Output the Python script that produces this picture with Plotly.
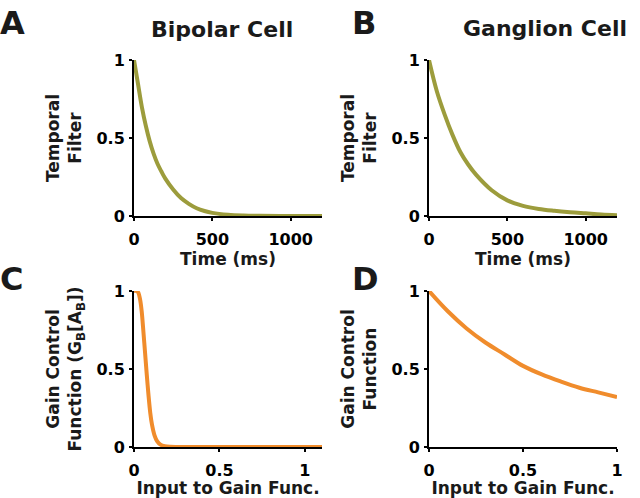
import plotly.graph_objects as go

# Panel A: bipolar temporal filter (time in ms)
a_time = [0, 25, 50, 75, 100, 125, 150, 175, 200, 250, 300, 350, 400, 450, 500, 600, 700, 800, 1000, 1200]
a_filter = [1.0, 0.85, 0.70, 0.58, 0.48, 0.40, 0.335, 0.285, 0.24, 0.17, 0.115, 0.078, 0.05, 0.032, 0.02, 0.008, 0.003, 0.001, 0.0, 0.0]

# Panel B: ganglion temporal filter
b_time = [0, 50, 100, 150, 200, 250, 300, 400, 500, 600, 700, 800, 900, 1000, 1100, 1200]
b_filter = [1.0, 0.80, 0.65, 0.52, 0.41, 0.33, 0.265, 0.165, 0.10, 0.065, 0.045, 0.033, 0.024, 0.017, 0.01, 0.005]

# Panel C: bipolar gain control function
c_input = [0, 0.015, 0.025, 0.035, 0.045, 0.055, 0.065, 0.075, 0.085, 0.095, 0.105, 0.12, 0.135, 0.155, 0.18, 0.21, 0.25, 0.4, 0.7, 1.1]
c_gain = [1.0, 1.0, 0.99, 0.95, 0.87, 0.74, 0.60, 0.46, 0.33, 0.22, 0.145, 0.075, 0.038, 0.015, 0.005, 0.001, 0.0, 0.0, 0.0, 0.0]

# Panel D: ganglion gain control function
d_input = [0, 0.1, 0.2, 0.3, 0.4, 0.5, 0.6, 0.7, 0.8, 0.9, 1.0]
d_gain = [1.0, 0.87, 0.76, 0.67, 0.595, 0.52, 0.465, 0.42, 0.38, 0.35, 0.32]

x_ticks_time = [0, 500, 1000]
x_ticks_gain = [0, 0.5, 1]
y_ticks = [0, 0.5, 1]
y_ticklabels = ["0", "0.5", "1"]

OLIVE = "#9c9c3c"
ORANGE = "#f08c2c"
FONT = "DejaVu Sans"

fig = go.Figure()
fig.add_trace(go.Scatter(x=a_time, y=a_filter, mode="lines", line=dict(color=OLIVE, width=4, shape="spline", smoothing=1.0), xaxis="x", yaxis="y", cliponaxis=False))
fig.add_trace(go.Scatter(x=b_time, y=b_filter, mode="lines", line=dict(color=OLIVE, width=4, shape="spline", smoothing=1.0), xaxis="x2", yaxis="y2", cliponaxis=False))
fig.add_trace(go.Scatter(x=c_input, y=c_gain, mode="lines", line=dict(color=ORANGE, width=4, shape="spline", smoothing=0.8), xaxis="x3", yaxis="y3", cliponaxis=False))
fig.add_trace(go.Scatter(x=d_input, y=d_gain, mode="lines", line=dict(color=ORANGE, width=4, shape="spline", smoothing=1.0), xaxis="x4", yaxis="y4", cliponaxis=False))

tickfont = dict(family=FONT, size=16, color="black", weight="bold")
titlefont = dict(family=FONT, size=17, color="#1a1a1a", weight="bold")

def xax(domain, anchor, rng, ticks, title):
    return dict(domain=domain, anchor=anchor, range=rng, tickvals=ticks,
                ticktext=[("%g" % t) for t in ticks],
                showline=True, linecolor="black", linewidth=2, mirror=False,
                ticks="outside", ticklen=3, tickwidth=2, tickcolor="black",
                showgrid=False, zeroline=False, tickfont=tickfont,
                ticklabelstandoff=5, automargin=False,
                title=dict(text=title, font=titlefont, standoff=0))

def yax(domain, anchor, title):
    return dict(domain=domain, anchor=anchor, range=[0, 1], tickvals=y_ticks,
                ticktext=y_ticklabels,
                showline=True, linecolor="black", linewidth=2,
                ticks="outside", ticklen=3, tickwidth=2, tickcolor="black",
                showgrid=False, zeroline=False, tickfont=tickfont,
                ticklabelstandoff=1, automargin=False,
                title=dict(text=title, font=titlefont, standoff=10))

xd_left = [134 / 640, 322 / 640]
xd_right = [429 / 640, 617 / 640]
yd_top = [1 - 216 / 498, 1 - 60 / 498]
yd_bot = [1 - 447 / 498, 1 - 291 / 498]

fig.update_layout(
    width=640, height=498,
    margin=dict(l=0, r=0, t=0, b=0, autoexpand=False),
    paper_bgcolor="white", plot_bgcolor="white",
    showlegend=False,
    xaxis=xax(xd_left, "y", [0, 1200], x_ticks_time, "Time (ms)"),
    yaxis=yax(yd_top, "x", "Temporal<br>Filter"),
    xaxis2=xax(xd_right, "y2", [0, 1200], x_ticks_time, "Time (ms)"),
    yaxis2=yax(yd_top, "x2", "Temporal<br>Filter"),
    xaxis3=xax(xd_left, "y3", [0, 1.1], x_ticks_gain, "Input to Gain Func."),
    yaxis3=yax(yd_bot, "x3", "Gain Control<br>Function (G<sub>B</sub>[A<sub>B</sub>])"),
    xaxis4=xax(xd_right, "y4", [0, 1], x_ticks_gain, "Input to Gain Func."),
    yaxis4=yax(yd_bot, "x4", "Gain Control<br>Function"),
)

letter_font = dict(family=FONT, size=32, color="#1a1a1a", weight="bold")
for txt, x, y in [("A", -2, 2), ("B", 350, 2), ("C", -2, 258), ("D", 350, 258)]:
    fig.add_annotation(text=txt, x=x / 640, y=1 - y / 498, xref="paper", yref="paper",
                       xanchor="left", yanchor="top", showarrow=False, font=letter_font)

head_font = dict(family=FONT, size=22, color="#1a1a1a", weight="bold")
fig.add_annotation(text="Bipolar Cell", x=222 / 640, y=1 - 30 / 498, xref="paper", yref="paper",
                   xanchor="center", yanchor="middle", showarrow=False, font=head_font)
fig.add_annotation(text="Ganglion Cell", x=545 / 640, y=1 - 28 / 498, xref="paper", yref="paper",
                   xanchor="center", yanchor="middle", showarrow=False, font=head_font)

fig.write_html("out.html", config={"displayModeBar": False},
               post_script="document.body.style.margin='0px';document.body.style.overflow='hidden';")
